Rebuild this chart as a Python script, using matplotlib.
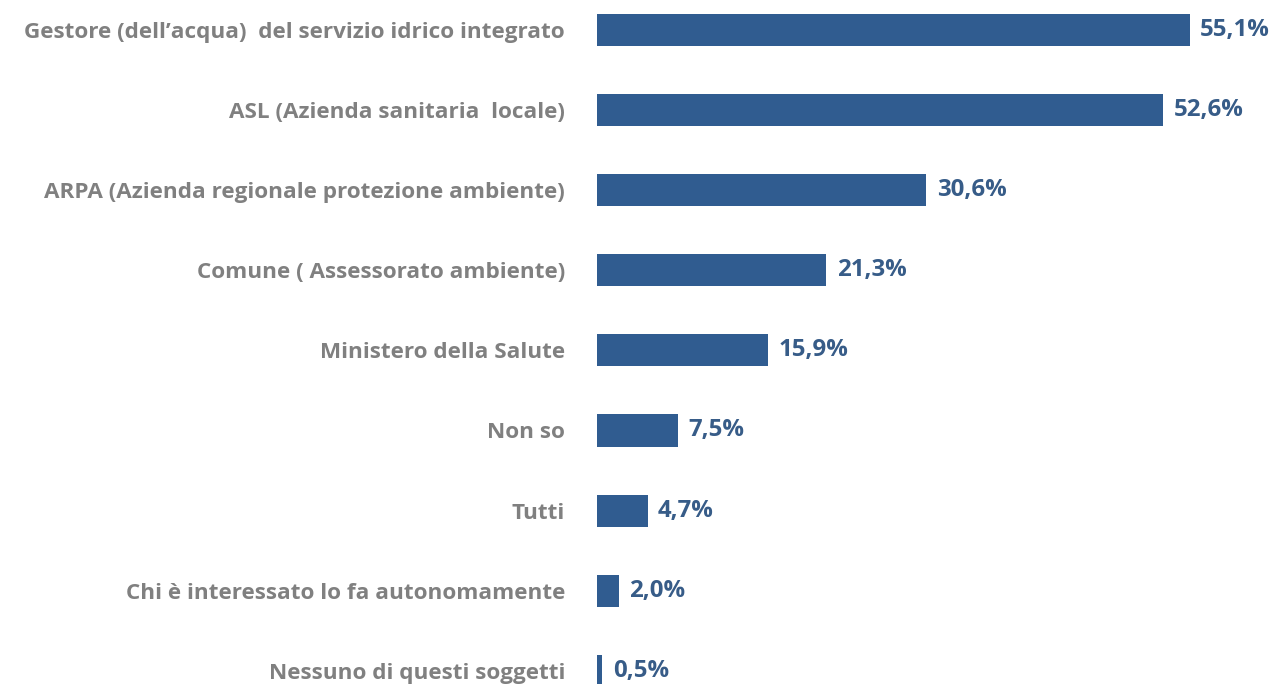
import numpy as np
import matplotlib
matplotlib.use('Agg')
import matplotlib.pyplot as plt

# Chi dovrebbe controllare la qualità dell'acqua
categories = [
    'Gestore (dell\u2019acqua)  del servizio idrico integrato',
    'ASL (Azienda sanitaria  locale)',
    'ARPA (Azienda regionale protezione ambiente)',
    'Comune ( Assessorato ambiente)',
    'Ministero della Salute',
    'Non so',
    'Tutti',
    'Chi è interessato lo fa autonomamente',
    'Nessuno di questi soggetti',
]
values = [55.1, 52.6, 30.6, 21.3, 15.9, 7.5, 4.7, 2.0, 0.5]

bar_color = '#305c90'
label_color = '#808080'
value_color = '#375c88'

plt.rcParams['font.family'] = ['Open Sans', 'DejaVu Sans']

fig = plt.figure(figsize=(12.74, 6.84), dpi=100)
ax = fig.add_axes([597 / 1274, 0, 677 / 1274, 1])

y = np.arange(len(categories))
ax.barh(y, values, height=0.4, color=bar_color)

for yi, v in zip(y, values):
    ax.annotate(f'{v:.1f}'.replace('.', ',') + '%', (v, yi), xytext=(7.5, 0),
                textcoords='offset points', va='center', ha='left',
                fontsize=17.3, fontweight='bold', color=value_color)

ax.set_xlim(0, 677 / 10.76)
ax.set_ylim(8.165, -0.3745)
ax.set_yticks(y)
ax.set_yticklabels(categories, fontsize=16.2, fontweight='bold', color=label_color)
ax.tick_params(axis='y', length=0, pad=23)
ax.set_xticks([])
for s in ax.spines.values():
    s.set_visible(False)

plt.savefig('out.png', dpi=100)
